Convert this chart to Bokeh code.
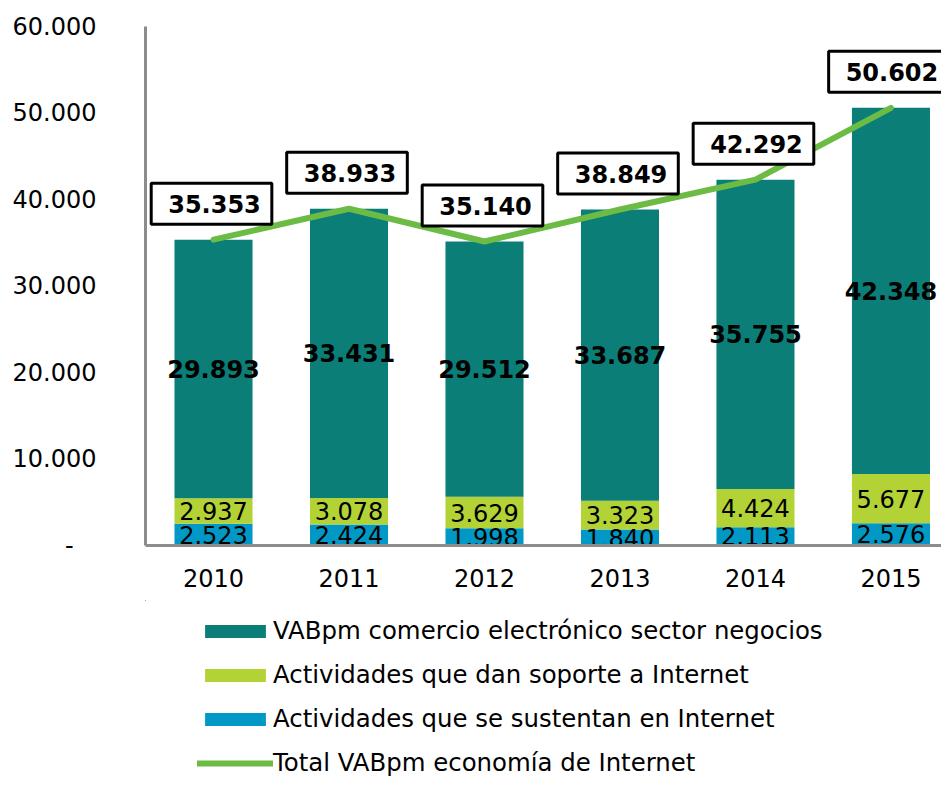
from bokeh.plotting import figure
from bokeh.layouts import column
from bokeh.models import ColumnDataSource, Range1d, FixedTicker, Legend, LegendItem
from bokeh.core.properties import value
from bokeh.embed import file_html
from bokeh.resources import INLINE

years = ["2010", "2011", "2012", "2013", "2014", "2015"]
comercio = [29893, 33431, 29512, 33687, 35755, 42348]
soporte = [2937, 3078, 3629, 3323, 4424, 5677]
sustentan = [2523, 2424, 1998, 1840, 2113, 2576]
total = [35353, 38933, 35140, 38849, 42292, 50602]
y_ticks = [0, 10000, 20000, 30000, 40000, 50000, 60000]
y_tick_labels = ["-\u00a0\u00a0\u00a0", "10.000", "20.000", "30.000", "40.000", "50.000", "60.000"]
series_names = ["VABpm comercio electrónico sector negocios",
                "Actividades que dan soporte a Internet",
                "Actividades que se sustentan en Internet",
                "Total VABpm economía de Internet"]

TEAL = "#0B7E78"
LIME = "#B3D235"
BLUE = "#0198C5"
GREEN = "#6CBB45"
GRAY = "#8C8C8C"
FONT = "DejaVu Sans"


def fmt(v):
    return f"{v:,}".replace(",", ".")


xs = list(range(len(years)))
b0 = [0] * len(xs)
b1 = sustentan
b2 = [a + b for a, b in zip(sustentan, soporte)]
b3 = [a + b for a, b in zip(b2, comercio)]

src = ColumnDataSource(dict(
    x=xs, b0=b0, b1=b1, b2=b2, b3=b3, total=total,
    m_blue=[(a + b) / 2 for a, b in zip(b0, b1)],
    m_lime=[(a + b) / 2 for a, b in zip(b1, b2)],
    m_teal=[(a + b) / 2 for a, b in zip(b2, b3)],
    t_blue=[fmt(v) for v in sustentan],
    t_lime=[fmt(v) for v in soporte],
    t_teal=[fmt(v) for v in comercio],
    t_total=[fmt(v) for v in total],
))

p = figure(width=941, height=600, output_backend="svg", toolbar_location=None,
           x_range=Range1d(-0.502, 5.373), y_range=Range1d(0, 60000),
           min_border_left=145, min_border_right=0, min_border_top=26, min_border_bottom=55)
p.outline_line_color = None
p.xgrid.grid_line_color = None
p.ygrid.grid_line_color = None
p.background_fill_color = "white"
p.border_fill_color = "white"

bw = 0.576
bar_style = dict(line_color=None)
p.vbar(x="x", bottom="b0", top="b1", width=bw, source=src, fill_color=BLUE, **bar_style)
p.vbar(x="x", bottom="b1", top="b2", width=bw, source=src, fill_color=LIME, **bar_style)
p.vbar(x="x", bottom="b2", top="b3", width=bw, source=src, fill_color=TEAL, **bar_style)
line_style = dict(line_color=GREEN, line_width=6, line_cap="round", line_join="round")
p.line(x="x", y="total", source=src, **line_style)

common = dict(text_align="center", text_baseline="middle", text_font=value(FONT),
              text_color="black", text_font_size="24px")
p.text(x="x", y="m_blue", text="t_blue", source=src, **common)
p.text(x="x", y="m_lime", text="t_lime", source=src, **common)
p.text(x="x", y="m_teal", text="t_teal", source=src, text_font_style="bold", **common)
p.text(x="x", y="total", text="t_total", source=src, text_font_style="bold", y_offset=-36, x_offset=-2,
       background_fill_color="white", border_line_color="black", border_line_width=3,
       padding=dict(left=17, right=11, top=12, bottom=11), **common)

# axes
p.xaxis.ticker = FixedTicker(ticks=xs)
p.xaxis.major_label_overrides = {i: y for i, y in zip(xs, years)}
p.xaxis.axis_line_color = GRAY
p.xaxis.axis_line_width = 3
p.xaxis.major_tick_line_color = None
p.xaxis.minor_tick_line_color = None
p.xaxis.major_label_standoff = 17
p.xaxis.major_label_text_font = FONT
p.xaxis.major_label_text_font_size = "24px"
p.xaxis.major_label_text_color = "black"

p.yaxis.ticker = FixedTicker(ticks=y_ticks)
p.yaxis.major_label_overrides = {t: l for t, l in zip(y_ticks, y_tick_labels)}
p.yaxis.axis_line_color = GRAY
p.yaxis.axis_line_width = 3
p.yaxis.major_tick_line_color = None
p.yaxis.minor_tick_line_color = None
p.yaxis.major_label_standoff = 43
p.yaxis.major_label_text_font = FONT
p.yaxis.major_label_text_font_size = "24px"
p.yaxis.major_label_text_color = "black"

# legend panel below the chart (its renderers use the same data, kept out of view)
lg = figure(width=941, height=177, output_backend="svg", toolbar_location=None,
            x_range=Range1d(1000, 1001), y_range=Range1d(-2e6, -1e6),
            x_axis_location=None, y_axis_location=None,
            min_border_left=145, min_border_right=0, min_border_top=0, min_border_bottom=0)
lg.outline_line_color = None
lg.grid.visible = False
g_teal = lg.vbar(x="x", bottom="b2", top="b3", width=bw, source=src, fill_color=TEAL, **bar_style)
g_lime = lg.vbar(x="x", bottom="b1", top="b2", width=bw, source=src, fill_color=LIME, **bar_style)
g_blue = lg.vbar(x="x", bottom="b0", top="b1", width=bw, source=src, fill_color=BLUE, **bar_style)
g_line = lg.line(x="x", y="total", source=src, **line_style)

legend = Legend(items=[
    LegendItem(label=series_names[0], renderers=[g_teal]),
    LegendItem(label=series_names[1], renderers=[g_lime]),
    LegendItem(label=series_names[2], renderers=[g_blue]),
    LegendItem(label=series_names[3], renderers=[g_line]),
], location=(52, 0), orientation="vertical",
    glyph_width=76, glyph_height=16, label_standoff=0, spacing=15, padding=0, margin=0,
    border_line_color=None, background_fill_alpha=0,
    label_text_font=FONT, label_text_font_size="24.4px", label_text_color="black")
lg.add_layout(legend, "center")

layout = column(p, lg, spacing=0)
open("out.html", "w").write(file_html(layout, INLINE))
